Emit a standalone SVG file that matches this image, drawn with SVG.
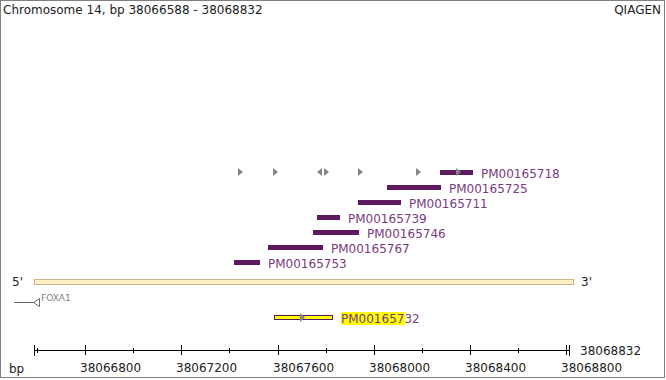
<svg xmlns="http://www.w3.org/2000/svg" width="666" height="380" viewBox="0 0 666 380">
<style>
text{font-family:"DejaVu Sans",sans-serif;}
.t{font-size:12px;fill:#222;}
.lbl{font-size:12px;fill:#7a3a7e;}
.bar{fill:#5f1a5f;}
.arr{fill:#858585;}
.ax{stroke:#000;stroke-width:1;fill:none;}
.axl{font-size:12px;fill:#222;}
</style>
<rect x="0.5" y="0.5" width="664" height="377" fill="#fff" stroke="#808080" stroke-width="1"/>
<text class="t" x="3" y="14">Chromosome 14, bp 38066588 - 38068832</text>
<text class="t" x="661" y="14" text-anchor="end">QIAGEN</text>

<g id="strand-markers">
<polygon class="arr" points="238,168 243,172 238,176"/>
<polygon class="arr" points="273,168 278,172 273,176"/>
<polygon class="arr" points="322,168 317,172 322,176"/>
<polygon class="arr" points="324,168 329,172 324,176"/>
<polygon class="arr" points="358,168 363,172 358,176"/>
<polygon class="arr" points="416,168 421,172 416,176"/>
</g>

<g id="PM00165718"><rect class="bar" x="440" y="170" width="33" height="5"/><polygon class="arr" points="456,168 461,172 456,176"/><text class="lbl" x="481" y="178">PM00165718</text></g>
<g id="PM00165725"><rect class="bar" x="387" y="185" width="54" height="5"/><text class="lbl" x="449" y="193">PM00165725</text></g>
<g id="PM00165711"><rect class="bar" x="358" y="200" width="43" height="5"/><text class="lbl" x="409" y="208">PM00165711</text></g>
<g id="PM00165739"><rect class="bar" x="317" y="215" width="23" height="5"/><text class="lbl" x="348" y="223">PM00165739</text></g>
<g id="PM00165746"><rect class="bar" x="313" y="230" width="46" height="5"/><text class="lbl" x="367" y="238">PM00165746</text></g>
<g id="PM00165767"><rect class="bar" x="268" y="245" width="55" height="5"/><text class="lbl" x="331" y="253">PM00165767</text></g>
<g id="PM00165753"><rect class="bar" x="234" y="260" width="26" height="5"/><text class="lbl" x="268" y="268">PM00165753</text></g>

<g id="gene">
<text class="t" x="12" y="286">5'</text>
<rect x="34.5" y="279.5" width="539" height="5" fill="#fdf0c4" stroke="#c8b88c" stroke-width="1"/>
<text class="t" x="581" y="286">3'</text>
</g>

<g id="FOXA1">
<line x1="14" y1="302.5" x2="34" y2="302.5" stroke="#666" stroke-width="1"/>
<polygon points="33.5,302.5 39.5,298.5 39.5,306.5" fill="#fff" stroke="#666" stroke-width="1"/>
<text x="41" y="301" font-size="9" fill="#808080">FOXA1</text>
</g>

<g id="PM00165732">
<rect x="274.5" y="315.5" width="58" height="4" fill="#ffff00" stroke="#5f1a5f" stroke-width="1"/>
<polygon class="arr" points="300,313 305,317.5 300,322"/>
<rect x="341" y="312" width="64" height="13" fill="#ffff00"/>
<text class="lbl" x="341" y="323">PM00165732</text>
</g>

<g id="axis">
<line class="ax" x1="35" y1="350.5" x2="570" y2="350.5"/>
<line class="ax" x1="34.5" y1="345" x2="34.5" y2="356"/>
<line class="ax" x1="569.5" y1="345" x2="569.5" y2="356"/>
<line class="ax" x1="37.5" y1="348" x2="37.5" y2="353"/>
<line class="ax" x1="85.5" y1="345" x2="85.5" y2="355"/>
<line class="ax" x1="133.5" y1="348" x2="133.5" y2="353"/>
<line class="ax" x1="181.5" y1="345" x2="181.5" y2="355"/>
<line class="ax" x1="229.5" y1="348" x2="229.5" y2="353"/>
<line class="ax" x1="278.5" y1="345" x2="278.5" y2="355"/>
<line class="ax" x1="326.5" y1="348" x2="326.5" y2="353"/>
<line class="ax" x1="374.5" y1="345" x2="374.5" y2="355"/>
<line class="ax" x1="422.5" y1="348" x2="422.5" y2="353"/>
<line class="ax" x1="470.5" y1="345" x2="470.5" y2="355"/>
<line class="ax" x1="518.5" y1="348" x2="518.5" y2="353"/>
<line class="ax" x1="566.5" y1="345" x2="566.5" y2="355"/>
<text class="axl" x="9" y="373">bp</text>
<text class="axl" x="80" y="372">38066800</text>
<text class="axl" x="176" y="372">38067200</text>
<text class="axl" x="273" y="372">38067600</text>
<text class="axl" x="369" y="372">38068000</text>
<text class="axl" x="465" y="372">38068400</text>
<text class="axl" x="561" y="372">38068800</text>
<text class="axl" x="580" y="355">38068832</text>
</g>
</svg>
